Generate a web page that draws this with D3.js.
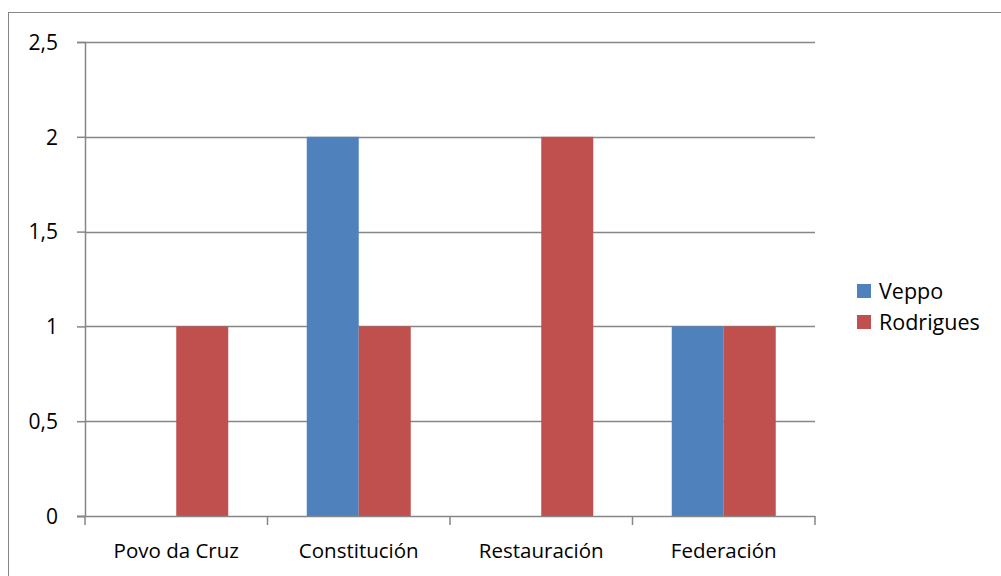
<!DOCTYPE html>
<html>
<head>
<meta charset="utf-8">
<script src="https://cdn.jsdelivr.net/npm/d3@7"></script>
<style>
  body { margin: 0; background: #fff; }
  svg text { font-family: "Open Sans", Lato, sans-serif; fill: #000; }
</style>
</head>
<body>
<svg id="chart" width="1001" height="576"></svg>
<script>
// data
var categories = ["Povo da Cruz", "Constitución", "Restauración", "Federación"];
var seriesNames = ["Veppo", "Rodrigues"];
var veppo = [0, 2, 0, 1];
var rodrigues = [1, 1, 2, 1];
var yTicks = [0, 0.5, 1, 1.5, 2, 2.5];
var colors = ["#4F81BD", "#C0504D"];

var svg = d3.select("#chart");

// outer frame
svg.append("rect")
    .attr("x", 8.5).attr("y", 12.5)
    .attr("width", 1100).attr("height", 700)
    .attr("fill", "none")
    .attr("stroke", "#868686")
    .attr("stroke-width", 1);

var plotLeft = 85, plotRight = 815, plotTop = 42, plotBottom = 516;

var x0 = d3.scaleBand().domain(categories).range([plotLeft, plotRight]).padding(0);
var x1 = d3.scaleBand().domain(seriesNames).range([0, x0.bandwidth()])
    .paddingInner(0).paddingOuter(0.755);
var y = d3.scaleLinear().domain([0, 2.5]).range([plotBottom, plotTop]);

var fmt = function (d) { return String(d).replace(".", ","); };

// gridlines
svg.append("g").selectAll("line")
    .data(yTicks.filter(function (d) { return d > 0; }))
    .enter().append("line")
    .attr("x1", plotLeft).attr("x2", plotRight)
    .attr("y1", function (d) { return Math.round(y(d)) + 0.5; })
    .attr("y2", function (d) { return Math.round(y(d)) + 0.5; })
    .attr("stroke", "#868686").attr("stroke-width", 1.5);

// bars
var rows = categories.map(function (c, i) {
    return { cat: c, values: [veppo[i], rodrigues[i]] };
});
svg.append("g").selectAll("g")
    .data(rows)
    .enter().append("g")
    .attr("transform", function (d) { return "translate(" + x0(d.cat) + ",0)"; })
    .selectAll("rect")
    .data(function (d) { return d.values.map(function (v, j) { return { name: seriesNames[j], v: v, j: j }; }); })
    .enter().append("rect")
    .attr("x", function (d) { return x1(d.name); })
    .attr("width", x1.bandwidth())
    .attr("y", function (d) { return y(d.v); })
    .attr("height", function (d) { return y(0) - y(d.v); })
    .attr("fill", function (d) { return colors[d.j]; });

// y axis
var yAxis = d3.axisLeft(y).tickValues(yTicks).tickFormat(fmt).tickSize(8).tickPadding(20);
var gy = svg.append("g").attr("transform", "translate(" + plotLeft + ",0)").call(yAxis);
gy.select(".domain").attr("stroke", "#868686").attr("stroke-width", 1.5);
gy.selectAll(".tick line").attr("stroke", "#868686").attr("stroke-width", 1.5);
gy.selectAll(".tick text").style("font-size", "21px").style("font-family", "'Open Sans', sans-serif")
    .attr("dy", "0.35em").attr("x", -27);

// x axis
var gx = svg.append("g").attr("transform", "translate(0," + plotBottom + ")");
gx.append("line")
    .attr("x1", plotLeft - 8).attr("x2", plotRight)
    .attr("y1", 0.5).attr("y2", 0.5)
    .attr("stroke", "#868686").attr("stroke-width", 1.5);
gx.selectAll("line.tk")
    .data(categories.concat(["end"]))
    .enter().append("line").attr("class", "tk")
    .attr("x1", function (d, i) { return plotLeft + i * x0.step(); })
    .attr("x2", function (d, i) { return plotLeft + i * x0.step(); })
    .attr("y1", 0).attr("y2", 9)
    .attr("stroke", "#868686").attr("stroke-width", 1.5);
gx.selectAll("text")
    .data(categories)
    .enter().append("text")
    .attr("x", function (d) { return x0(d) + x0.bandwidth() / 2; })
    .attr("y", 42)
    .attr("text-anchor", "middle")
    .style("font-size", "20.5px")
    .text(function (d) { return d; });

// legend
var legend = svg.append("g").selectAll("g")
    .data(seriesNames)
    .enter().append("g")
    .attr("transform", function (d, i) { return "translate(857," + (284 + i * 31) + ")"; });
legend.append("rect")
    .attr("width", 14).attr("height", 14)
    .attr("fill", function (d, i) { return colors[i]; });
legend.append("text")
    .attr("x", 22).attr("y", 7).attr("dy", "0.35em")
    .style("font-size", "21.5px")
    .text(function (d) { return d; });
</script>
</body>
</html>
